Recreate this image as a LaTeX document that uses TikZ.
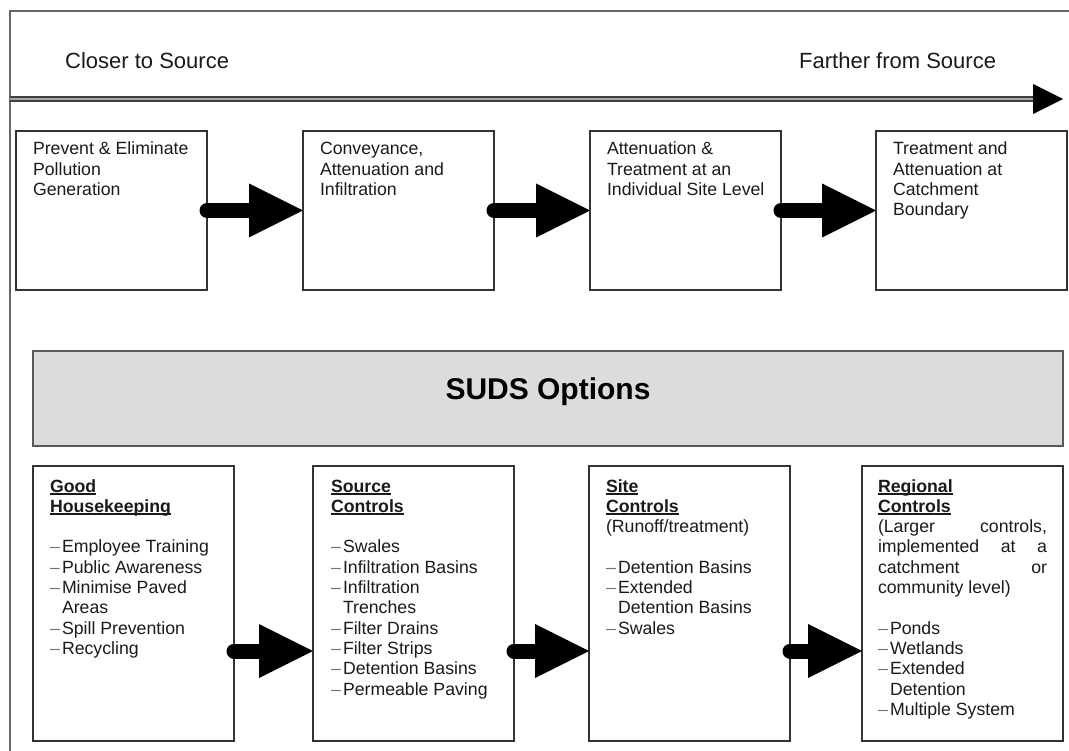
\documentclass[tikz,border=0pt]{standalone}
\usepackage{fontspec}
\setmainfont{Liberation Sans}
\usetikzlibrary{arrows.meta}
\definecolor{sudsfill}{HTML}{DCDCDC}
\definecolor{txtc}{HTML}{1A1A1A}
\newlength\ulw
\newcommand\myul[1]{\settowidth\ulw{#1}\rlap{\rule[-2.8pt]{\ulw}{1.7pt}}#1}
\newcommand\bul{\makebox[12pt][l]{\textcolor{black!55}{–}}}
\newcommand\cont{\hspace*{12pt}}
\newcommand\fst{\rule{0pt}{13.5pt}}
\begin{document}
\begin{tikzpicture}[x=1pt,y=-1pt,
  box/.style={draw=black!80, line width=1.3pt, inner sep=0pt, outer sep=0pt, anchor=north west},
  topbox/.style={box, minimum width=191pt, minimum height=159pt},
  botbox/.style={box, minimum width=201pt, minimum height=275pt},
  txt/.style={anchor=north west, inner sep=0pt, outer sep=0pt, align=left, text=txtc,
    font=\fontsize{17.7}{20.3}\selectfont},
  head/.style={anchor=base west, inner sep=0pt, text=txtc, font=\fontsize{22}{26}\selectfont},
  bigarrow/.style={line width=15pt, line cap=round,
    -{Triangle[length=54pt,width=54pt,line width=0pt]}},
  frame/.style={draw=black!60, line width=1.8pt},
  dline/.style={draw=black!75, line width=1.4pt, double=black!35, double distance=2.4pt}
]
\useasboundingbox (0,0) rectangle (1069,751);

% outer frame
\coordinate (fb) at (10,751);
\coordinate (fc) at (10,11);
\coordinate (fr) at (1069,11);
\draw[frame] (fb) -- (fc) -- (fr);

% direction line
\coordinate (dl) at (10,99);
\coordinate (dr) at (1063,99);
\draw[dline] (dl) -- ([xshift=-28pt]dr);
\fill[black] (dr) -- ++(-30,-15) -- ++(0,30) -- cycle;

\node[head] (close) at (65,69) {Closer to Source};
\node[head] (far) at (799,69) {Farther from Source};

% top boxes
\node[topbox] (t1) at (16,131) {};
\node[topbox] (t2) at (303,131) {};
\node[topbox] (t3) at (590,131) {};
\node[topbox] (t4) at (876,131) {};

\node[txt] (t1t) at ([shift={(17,10.5)}]t1.north west) {\fst Prevent \& Eliminate\\Pollution\\Generation};
\node[txt] (t2t) at ([shift={(17,10.5)}]t2.north west) {\fst Conveyance,\\Attenuation and\\Infiltration};
\node[txt] (t3t) at ([shift={(17,10.5)}]t3.north west) {\fst Attenuation \&\\Treatment at an\\Individual Site Level};
\node[txt] (t4t) at ([shift={(17,10.5)}]t4.north west) {\fst Treatment and\\Attenuation at\\Catchment\\Boundary};

\draw[bigarrow] (t1.east) -- (t2.west);
\draw[bigarrow] (t2.east) -- (t3.west);
\draw[bigarrow] (t3.east) -- (t4.west);

% SUDS options bar
\node[draw=black!65, line width=1.8pt, fill=sudsfill, minimum width=1030pt, minimum height=95pt,
  inner sep=0pt, outer sep=0pt, anchor=north west] (suds) at (33,351) {};
\node[anchor=base, inner sep=0pt, text=black, font=\fontsize{30}{34}\selectfont\bfseries] (sudst) at (548,400) {SUDS Options};

% bottom boxes
\node[botbox] (b1) at (33,466) {};
\node[botbox] (b2) at (313,466) {};
\node[botbox] (b3) at (589,466) {};
\node[botbox] (b4) at (862,466) {};

\node[txt] (b1t) at ([shift={(17,12.5)}]b1.north west) {\fst\myul{\textbf{Good}}\\
  \myul{\textbf{Housekeeping}}\\[20.3pt]
  \bul Employee Training\\
  \bul Public Awareness\\
  \bul Minimise Paved\\
  \cont Areas\\
  \bul Spill Prevention\\
  \bul Recycling};

\node[txt] (b2t) at ([shift={(18,12.5)}]b2.north west) {\fst\myul{\textbf{Source}}\\
  \myul{\textbf{Controls}}\\[20.3pt]
  \bul Swales\\
  \bul Infiltration Basins\\
  \bul Infiltration\\
  \cont Trenches\\
  \bul Filter Drains\\
  \bul Filter Strips\\
  \bul Detention Basins\\
  \bul Permeable Paving};

\node[txt] (b3t) at ([shift={(17,12.5)}]b3.north west) {\fst\myul{\textbf{Site}}\\
  \myul{\textbf{Controls}}\\
  (Runoff/treatment)\\[20.3pt]
  \bul Detention Basins\\
  \bul Extended\\
  \cont Detention Basins\\
  \bul Swales};

\node[txt, text width=169pt, align=justify] (b4t) at ([shift={(16,12.5)}]b4.north west) {\parindent=0pt\fst\myul{\textbf{Regional}}\\
  \myul{\textbf{Controls}}\\
  (Larger controls,\linebreak implemented at a\linebreak catchment or\linebreak community level)\\[20.3pt]
  \bul Ponds\\
  \bul Wetlands\\
  \bul Extended\\
  \cont Detention\\
  \bul Multiple System};

\draw[bigarrow] ([yshift=-47.5pt]b1.east) -- ([yshift=-47.5pt]b2.west);
\draw[bigarrow] ([yshift=-47.5pt]b2.east) -- ([yshift=-47.5pt]b3.west);
\draw[bigarrow] ([yshift=-47.5pt]b3.east) -- ([yshift=-47.5pt]b4.west);
\end{tikzpicture}
\end{document}
